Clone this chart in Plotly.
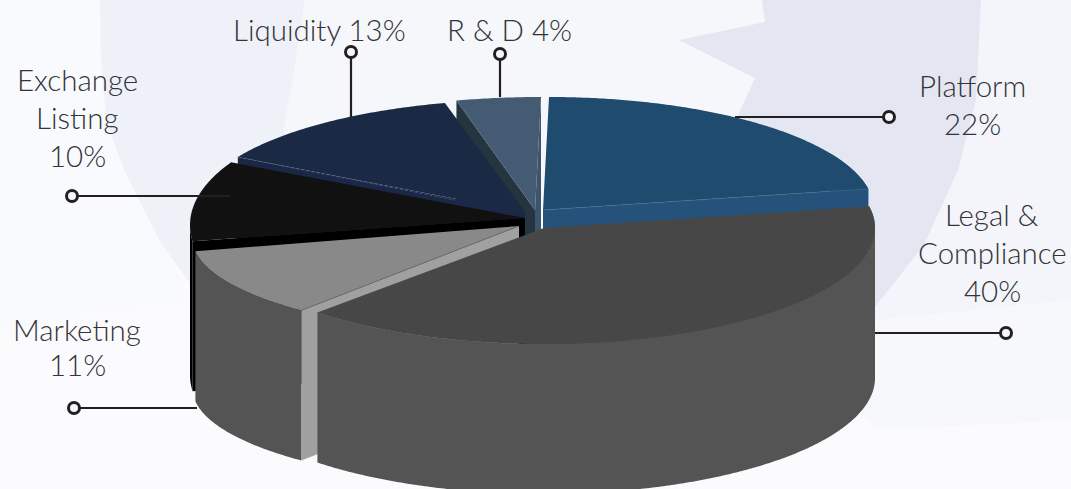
import numpy as np
import plotly.graph_objects as go

# ---- data -----------------------------------------------------------------
categories = ["Platform", "Legal & Compliance", "Marketing", "Exchange Listing", "Liquidity", "R & D"]
shares = [22, 40, 11, 10, 13, 4]

# label lines per category (one row per text line)
label_lines = [["Platform", "22%"], ["Legal &", "Compliance", "40%"], ["Marketing", "11%"],
               ["Exchange", "Listing", "10%"], ["Liquidity 13%"], ["R & D 4%"]]

# ---- drawing set-up -------------------------------------------------------
W, H = 1071, 489
DEPTH = 150
# rim centre x, y, radius x, radius y, apex x, apex y of each exploded slice
rim = {
    "Platform": (549, 210, 325, 113, 543, 210),
    "Legal & Compliance": (544, 228, 331, 116, 544, 228),
    "Marketing": (536.7, 239, 344, 98, 519, 226),
    "Exchange Listing": (521, 225, 331, 130, 525, 218),
    "Liquidity": (527, 210.5, 330, 111, 525, 212),
    "R & D": (541, 210, 340, 113, 535, 210),
}
palette = {  # top, outer wall, wall at the start edge, wall at the end edge
    "Platform": ("#1f4b6e", "#24527b", None, "#24527b"),
    "Legal & Compliance": ("#474747", "#545454", None, None),
    "Marketing": ("#898989", "#545454", "#a0a0a0", None),
    "Exchange Listing": ("#111111", "#000000", "#000000", None),
    "Liquidity": ("#1a2a44", "#1a2747", "#1a2747", None),
    "R & D": ("#445b73", "#25353f", "#25353f", "#3c556e"),
}
draw_order = ["R & D", "Platform", "Liquidity", "Exchange Listing", "Marketing", "Legal & Compliance"]
label_pos = {
    "Platform": (972, [85, 123]),
    "Legal & Compliance": (992, [214, 252, 290]),
    "Marketing": (77, [329, 364]),
    "Exchange Listing": (77, [79, 117, 155]),
    "Liquidity": (319, [29]),
    "R & D": (509, [29]),
}
leaders = {  # line start, ring end
    "Platform": ((735, 117), (889, 117)),
    "Legal & Compliance": ((875, 333), (1006, 333)),
    "Marketing": ((197, 408), (74, 408)),
    "Exchange Listing": ((230, 196), (72, 196)),
    "Liquidity": ((351, 117), (351, 52)),
    "R & D": ((500, 97), (500, 54)),
}
LINE = "#231f20"
TEXT = "#333338"

# angles come from the shares, clockwise from twelve o'clock
ends = np.cumsum(shares) / np.sum(shares) * 360.0
starts = np.concatenate([[0.0], ends[:-1]])
angle = {c: (a, b) for c, a, b in zip(categories, starts, ends)}


def rim_points(cat, a, b):
    cx, cy, rx, ry, _, _ = rim[cat]
    t = np.radians(np.linspace(a, b, max(int(abs(b - a) * 2), 2)))
    return cx + rx * np.sin(t), cy - ry * np.cos(t)


fig = go.Figure()


def poly(xs, ys, color, name):
    fig.add_trace(go.Scatter(x=np.asarray(xs), y=np.asarray(ys), mode="lines", fill="toself",
                             fillcolor=color, line=dict(width=0, color=color, simplify=False),
                             hoverinfo="skip", name=name, showlegend=False))


def cut_wall(cat, rim_xy, color):
    _, _, _, _, ax, ay = rim[cat]
    poly([ax, rim_xy[0], rim_xy[0], ax], [ay, rim_xy[1], rim_xy[1] + DEPTH, ay + DEPTH], color, cat + " cut")


for cat in draw_order:
    a, b = angle[cat]
    top, outer, cut1, cut2 = palette[cat]
    xs, ys = rim_points(cat, a, b)
    _, _, _, _, ax, ay = rim[cat]
    if cut1:
        cut_wall(cat, (xs[0], ys[0]), cut1)
    if cut2:
        cut_wall(cat, (xs[-1], ys[-1]), cut2)
    # outer wall: only the part that faces the viewer, split where the rim turns back
    for lo, hi in [(max(a, 60), min(b, 90)), (max(a, 90), min(b, 270))]:
        if hi > lo:
            wx, wy = rim_points(cat, lo, hi)
            poly(np.r_[wx, wx[::-1]], np.r_[wy, wy[::-1] + DEPTH], outer, cat + " wall")
    poly(np.r_[ax, xs, ax], np.r_[ay, ys, ay], top, cat)
    if cat == "Marketing":
        fig.add_trace(go.Scatter(x=[ax, xs[0]], y=[ay, ys[0]], mode="lines", hoverinfo="skip",
                                 line=dict(color="#6a6a6a", width=0.7), showlegend=False))
    if cat == "Liquidity":
        fig.add_trace(go.Scatter(x=[xs[0], xs[0] + 217], y=[ys[0], ys[0] + 43], mode="lines", hoverinfo="skip",
                                 line=dict(color="#5f7088", width=0.6, dash="3px,2px"), showlegend=False))
    if cat == "Platform":
        fig.add_trace(go.Scatter(x=[ax, xs[-1]], y=[ay, ys[-1]], mode="lines", hoverinfo="skip",
                                 line=dict(color="#44708f", width=0.6), showlegend=False))

for cat in categories:
    p0, p1 = leaders[cat]
    fig.add_trace(go.Scatter(x=[p0[0], p1[0]], y=[p0[1], p1[1]], mode="lines", hoverinfo="skip",
                             line=dict(color=LINE, width=2.2), showlegend=False))
    fig.add_trace(go.Scatter(x=[p1[0]], y=[p1[1]], mode="markers", hoverinfo="skip", showlegend=False,
                             marker=dict(symbol="circle", size=11, color="#f4f6fb",
                                         line=dict(color=LINE, width=3))))

annotations = []
for cat, lines in zip(categories, label_lines):
    x, rows = label_pos[cat]
    for text, y in zip(lines, rows):
        annotations.append(dict(x=x, y=y, text=text, showarrow=False, xanchor="center", yanchor="middle",
                                font=dict(family="Lato", size=29.5, color=TEXT, weight=300)))

# pale globe watermark behind the pie
def path(points):
    return "M " + " L ".join(f"{x},{y}" for x, y in points) + " Z"


glow_low = [(700, 0), (1071, 0), (1071, 420), (875, 430), (600, 100)]
glow_right = [(762, 0), (1071, 0), (1071, 300), (875, 320), (600, 100)]
glow_top_left = [(0, 0), (100, 0), (162, 245), (190, 300), (0, 330)]
globe_left = [(100, 0), (101, 60), (106, 120), (124, 170), (162, 245), (195, 290), (300, 300),
              (284, 130), (296, 60), (305, 0)]
globe_mid = [(305, 0), (762, 0), (765, 22), (679, 40), (755, 78), (738, 115), (540, 200), (300, 300),
             (284, 130), (296, 60)]
globe_right = [(762, 0), (981, 0), (976, 100), (958, 170), (924, 245), (875, 307), (800, 200), (738, 115),
               (755, 78), (679, 40), (765, 22)]
shapes = [
    dict(type="path", path=path(glow_low), fillcolor="#f7f8fc", line=dict(width=0), layer="below"),
    dict(type="path", path=path(glow_right), fillcolor="#f3f5fb", line=dict(width=0), layer="below"),
    dict(type="path", path=path(glow_top_left), fillcolor="#f8fafe", line=dict(width=0), layer="below"),
    dict(type="path", path=path(globe_left), fillcolor="#eef1f7", line=dict(width=0), layer="below"),
    dict(type="path", path=path(globe_mid), fillcolor="#f5f7fb", line=dict(width=0), layer="below"),
    dict(type="path", path=path(globe_right), fillcolor="#e4e7f2", line=dict(width=0), layer="below"),
]

fig.update_layout(
    width=W, height=H, margin=dict(l=0, r=0, t=0, b=0), autosize=False,
    paper_bgcolor="#fbfbfe", plot_bgcolor="rgba(0,0,0,0)", showlegend=False,
    xaxis=dict(range=[0, W], visible=False, fixedrange=True),
    yaxis=dict(range=[H, 0], visible=False, fixedrange=True),
    annotations=annotations, shapes=shapes,
)
fig.write_html("out.html", config={"displayModeBar": False},
               post_script="document.body.style.margin='0';document.documentElement.style.overflow='hidden';")
